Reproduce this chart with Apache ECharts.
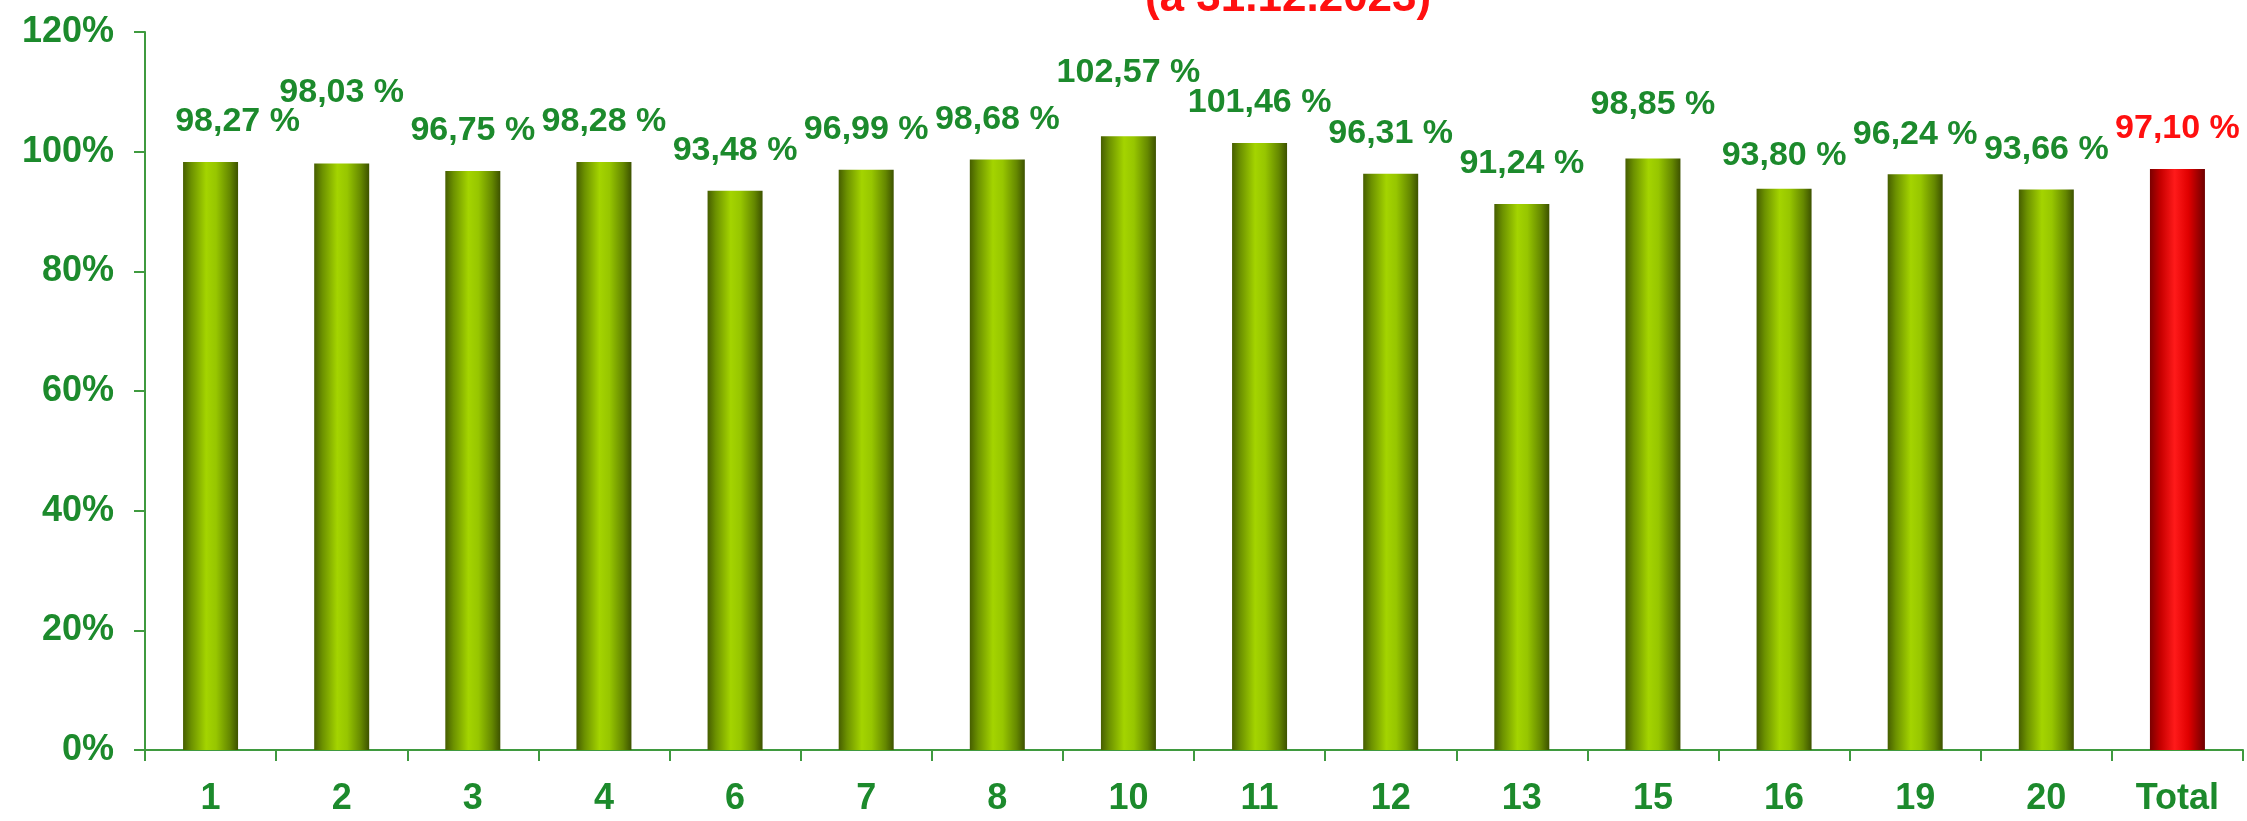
<!DOCTYPE html>
<html>
<head>
<meta charset="utf-8">
<script src="https://cdn.jsdelivr.net/npm/echarts@6/dist/echarts.min.js"></script>
<style>
html,body{margin:0;padding:0;background:#fff;}
#chart{width:2247px;height:821px;}
</style>
</head>
<body>
<div id="chart"></div>
<script>
var categories = ['1','2','3','4','6','7','8','10','11','12','13','15','16','19','20','Total'];
var values = [98.27, 98.03, 96.75, 98.28, 93.48, 96.99, 98.68, 102.57, 101.46, 96.31, 91.24, 98.85, 93.80, 96.24, 93.66, 97.10];
var yTicks = [0, 20, 40, 60, 80, 100, 120];
var titleText = '(à 31.12.2023)';
// per-label nudges (style only)
var labelNudge = [[27,0],[0,-31],[0,0],[0,0],[0,0],[0,0],[0,0],[0,-24],[0,0],[0,0],[0,0],[0,-14],[0,7],[0,0],[0,0],[0,0]];

var GREEN_TXT = '#1c8a2c';
var RED = '#ff1010';
var FONT = '"Liberation Sans", Arial, sans-serif';

function greenGrad(){
  return new echarts.graphic.LinearGradient(0,0,1,0,[
    {offset:0, color:'#465e00'},
    {offset:0.15, color:'#6c9100'},
    {offset:0.42, color:'#a4d400'},
    {offset:0.6, color:'#97c600'},
    {offset:0.85, color:'#658800'},
    {offset:1, color:'#3d5200'}
  ]);
}
function redGrad(){
  return new echarts.graphic.LinearGradient(0,0,1,0,[
    {offset:0, color:'#7a0000'},
    {offset:0.2, color:'#c80000'},
    {offset:0.45, color:'#ff1a1a'},
    {offset:0.7, color:'#e00000'},
    {offset:1, color:'#6e0000'}
  ]);
}

var data = values.map(function(v,i){
  var isTotal = categories[i] === 'Total';
  return {
    value: v,
    itemStyle: {color: isTotal ? redGrad() : greenGrad()},
    label: {
      color: isTotal ? RED : GREEN_TXT,
      offset: labelNudge[i]
    }
  };
});

var chart = echarts.init(document.getElementById('chart'));
chart.setOption({
  animation: false,
  backgroundColor: '#ffffff',
  title: {
    text: titleText,
    left: 1140,
    top: -28,
    textStyle: {color: RED, fontSize: 44, fontWeight: 'bold', fontFamily: FONT}
  },
  grid: {left: 145, right: 4, top: 32, bottom: 71, containLabel: false},
  xAxis: {
    type: 'category',
    data: categories,
    axisLine: {lineStyle: {color: '#3f9a3f', width: 2}},
    axisTick: {show: true, length: 11, inside: false, lineStyle: {color: '#3f9a3f', width: 2}},
    axisLabel: {color: GREEN_TXT, fontSize: 36, fontWeight: 'bold', fontFamily: FONT, margin: 31}
  },
  yAxis: {
    type: 'value',
    min: 0, max: 120, interval: 20,
    axisLine: {show: true, lineStyle: {color: '#3f9a3f', width: 2}},
    axisTick: {show: true, length: 11, lineStyle: {color: '#3f9a3f', width: 2}},
    splitLine: {show: false},
    axisLabel: {
      color: GREEN_TXT, fontSize: 36, fontWeight: 'bold', fontFamily: FONT, margin: 31,
      formatter: function(v){ return yTicks.indexOf(v) >= 0 ? v + '%' : ''; }
    }
  },
  series: [{
    type: 'bar',
    data: data,
    barWidth: 55,
    label: {
      show: true,
      position: 'top',
      distance: 23,
      fontSize: 34,
      fontWeight: 'bold',
      fontFamily: FONT,
      formatter: function(p){ return p.value.toFixed(2).replace('.', ',') + ' %'; }
    }
  }]
});
</script>
</body>
</html>
